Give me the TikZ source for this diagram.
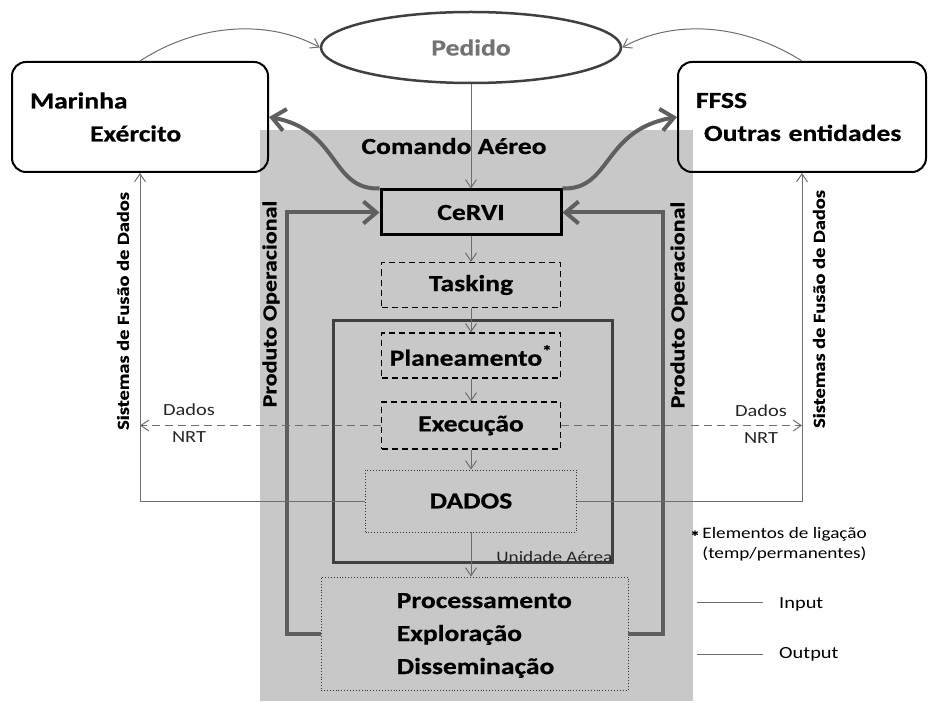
\documentclass[tikz,border=0pt]{standalone}
\usepackage{fontspec}
\setmainfont{Carlito}[FakeStretch=1.2, BoldFeatures={FakeBold=0.6}]
\usetikzlibrary{shapes.geometric,arrows.meta}
\definecolor{bggray}{RGB}{200,200,200}
\definecolor{linegray}{RGB}{110,110,110}
\definecolor{thickgray}{RGB}{95,95,95}
\newcommand{\bigfont}{\fontsize{23}{33}\selectfont\bfseries}
\newcommand{\smallfont}{\fontsize{17}{27}\selectfont}

\begin{document}
\begin{tikzpicture}[x=1pt, y=-1pt,
	big/.style={font=\bigfont},
	small/.style={font=\smallfont, text=black!85},
	legend/.style={font=\fontsize{16}{20}\selectfont, inner sep=0pt},
	orgbox/.style={draw, line width=2pt, rounded corners=14pt, minimum height=110pt, align=left, big, inner sep=0pt},
	stepbox/.style={draw, line width=1.2pt, dash pattern=on 6pt off 4pt, minimum width=179pt, minimum height=45pt, big, inner sep=0pt},
	dotbox/.style={draw=black!80, line width=0.9pt, dotted, big, inner sep=0pt},
	rotlbl/.style={rotate=90, font=\fontsize{#1}{#1}\selectfont\bfseries, inner sep=0pt},
	thinarrow/.style={draw=linegray, line width=1pt, -{Straight Barb[length=8pt, width=11pt]}},
	dasharrow/.style={thinarrow, dash pattern=on 8pt off 5pt},
	thickarrow/.style={draw=thickgray, line width=4pt, -{Straight Barb[length=13pt, width=22pt]}},
	legline/.style={draw=linegray, line width=1pt}]

	\useasboundingbox (0,0) rectangle (928,703);
	\fill[bggray] (260,130) rectangle (693,701);

	% top of the chain
	\node[ellipse, draw=black!75, line width=2.5pt, minimum width=300pt, minimum height=71pt, big, text=black!55] (pedido) at (471,47.5) {Pedido};
	\node[orgbox, minimum width=256pt, text width=220pt] (marinha) at (140,117) {Marinha\\\hspace*{60pt}Exército};
	\node[orgbox, minimum width=248pt, text width=212pt] (ffss) at (802,117) {FFSS\\\hspace*{8pt}Outras entidades};
	\node[big] (comando) at (454,146) {Comando Aéreo};

	% central column
	\node[big, draw, line width=3pt, minimum width=180pt, minimum height=45pt, inner sep=0pt] (cervi) at (471,212.5) {CeRVI};
	\node[stepbox] (tasking) at (471,285) {Tasking};
	\node[draw=black!75, line width=3pt, minimum width=279pt, minimum height=242pt] (unid) at (472.5,441) {};
	\node[stepbox] (plan) at (471,355.5) {Planeamento\textsuperscript{*}};
	\node[stepbox, minimum height=47pt] (exec) at (471,425.5) {Execução};
	\node[dotbox, minimum width=211pt, minimum height=62pt] (dados) at (471,501) {DADOS};
	\node[small, font=\fontsize{16}{16}\selectfont, anchor=south east, inner sep=1pt] (unidlbl) at (unid.south east) {Unidade Aérea};
	\node[dotbox, minimum width=307pt, minimum height=113pt] (proc) at (474.5,633.5) {};
	\node[big, align=left, anchor=west, inner sep=0pt] (proctxt) at ([xshift=76pt, yshift=-2pt]proc.west) {Processamento\\Exploração\\Disseminação};

	% side labels
	\node[rotlbl=20] (prodl) at (271,304) {Produto Operacional};
	\node[rotlbl=20] (prodr) at (679,305) {Produto Operacional};
	\node[rotlbl=17] (fusl) at (123,311) {Sistemas de Fusão de Dados};
	\node[rotlbl=17] (fusr) at (819,309) {Sistemas de Fusão de Dados};
	\node[small, align=center] (nrtl) at (189,423) {Dados\\NRT};
	\node[small, align=center] (nrtr) at (761,424) {Dados\\NRT};

	% requests
	\draw[thinarrow] (marinha.north) .. controls (200,22) and (270,20) .. (pedido.west);
	\draw[thinarrow] (ffss.north) .. controls (740,22) and (672,20) .. (pedido.east);
	\draw[thinarrow] (pedido.south) -- (cervi.north);
	\draw[thickarrow] (cervi.north west) .. controls (330,190) and (340,130) .. (marinha.east);
	\draw[thickarrow] (cervi.north east) .. controls (612,190) and (602,130) .. (ffss.west);

	% chain
	\draw[thinarrow] (cervi) -- (tasking);
	\draw[thinarrow] (tasking) -- (plan);
	\draw[thinarrow] (plan) -- (exec);
	\draw[thinarrow] (exec) -- (dados);
	\draw[thinarrow] (dados.south) -- (dados.south |- proc.north);

	% products and data
	\draw[thickarrow] (proc.west) -- ++(-34,0) |- (cervi.west);
	\draw[thickarrow] (proc.east) -- ++(35,0) |- (cervi.east);
	\draw[thinarrow] (dados.west) -| (marinha.south);
	\draw[thinarrow] (dados.east) -| (ffss.south);
	\draw[dasharrow] (exec.west) -- (exec.west -| marinha.south);
	\draw[dasharrow] (exec.east) -- (exec.east -| ffss.south);

	% legend
	\node[legend, align=left, anchor=base west] (lig) at (690,558) {\raisebox{-4pt}{\textbf{*}}\,Elementos de ligação\\\phantom{*\,}(temp/permanentes)};
	\coordinate (inA) at (697,602);
	\coordinate (outA) at (697,654);
	\draw[legline] (inA) -- ++(66,0);
	\draw[legline] (outA) -- ++(66,0);
	\node[legend, font=\fontsize{17}{17}\selectfont, anchor=base west] (inlbl) at (779,608) {Input};
	\node[legend, font=\fontsize{17}{17}\selectfont, anchor=base west] (outlbl) at (779,658) {Output};
\end{tikzpicture}
\end{document}
